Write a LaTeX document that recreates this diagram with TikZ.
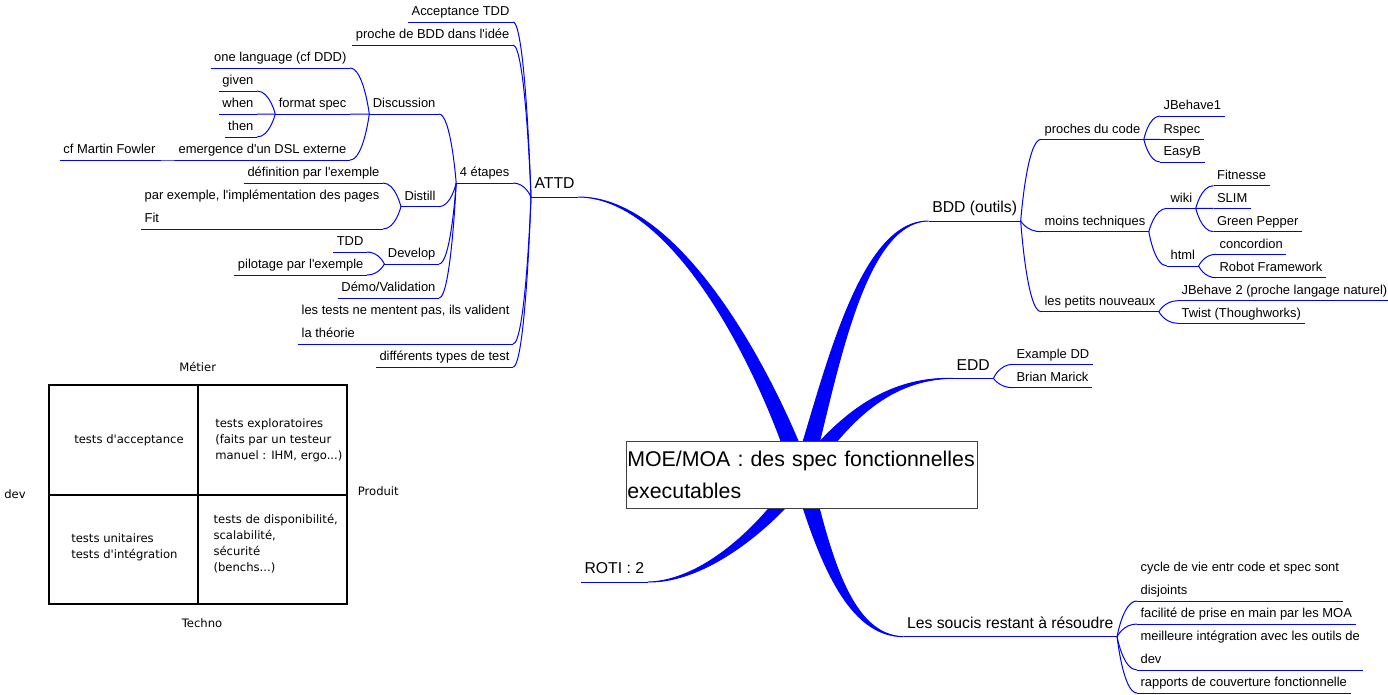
\documentclass[tikz,border=0pt]{standalone}
\usepackage{fontspec}
\setmainfont{Liberation Sans}
\newfontfamily\dejavu{DejaVu Sans}
\usetikzlibrary{calc, backgrounds}

% straight apostrophe
\newcommand{\q}{\textquotesingle}
% thin fork connector, from parent end to child end
\newcommand{\branch}[2]{\draw[link] (#2) .. controls ($(#2)!.7!(#2 -| #1)$) and (#1) .. (#1);}
% tapered connector out of the centre
\newcommand{\spoke}[5]{\filldraw[blue, line width=0.7pt] ($(#1)+#5$) .. controls ($#2+0.7*#5$) and ($#3+0.25*#5$) .. (#4)
  .. controls ($#3-0.25*#5$) and ($#2-0.7*#5$) .. ($(#1)-#5$) -- cycle;}

\begin{document}
\begin{tikzpicture}[
      x=0.75pt, y=-0.75pt,
      core/.style={rectangle, draw=black!75, fill=white, line width=0.8pt,
                   minimum width=263pt, minimum height=50pt, text width=262pt,
                   inner xsep=0.5pt, align=left, font=\fontsize{16}{24.5}\selectfont},
      topic/.style={inner xsep=2.5pt, inner ysep=2pt, text depth=2.5pt,
                    align=left, font=\fontsize{9.7}{17.25}\selectfont},
      main/.style={topic, inner ysep=3.5pt, font=\fontsize{11.8}{14}\selectfont},
      lt/.style={topic, anchor=south east},
      rt/.style={topic, anchor=south west},
      link/.style={draw=blue, line width=0.75pt},
      quad/.style={font=\dejavu\fontsize{8.7}{12}\selectfont, align=left, inner sep=0pt}
    ]
    \useasboundingbox (0,0) rectangle (1388,694);

    % Centre
    \node[core] (root) at (802,475) {\mbox{MOE/MOA : des spec fonctionnelles}\\executables};

    % Left: ATTD
    \node[main, anchor=south west] (attd) at (531,197) {ATTD};
    \node[lt] (acc) at (513,22) {Acceptance TDD};
    \node[lt] (proche) at (513,45) {proche de BDD dans l\q idée};
    \node[lt] (etapes) at (513,183) {4 étapes};
    \node[lt] (mentent) at (513,344) {les tests ne mentent pas, ils valident\\la théorie};
    \node[lt] (types) at (513,367) {différents types de test};

    % 4 etapes
    \node[lt] (discu) at (439,114) {Discussion};
    \node[lt] (distill) at (439,206.7) {Distill};
    \node[lt] (develop) at (439,264) {Develop};
    \node[lt] (demo) at (439,298) {Démo/Validation};

    % Discussion
    \node[lt] (onelang) at (350,68) {one language (cf DDD)};
    \node[lt] (format) at (350,114) {format spec};
    \node[lt] (dsl) at (350,160) {emergence d\q un DSL externe};
    \node[lt] (given) at (257,91) {given};
    \node[lt] (when) at (257,114) {when};
    \node[lt] (then) at (257,137) {then};
    \node[lt] (fowler) at (159,160) {cf Martin Fowler};

    % Distill, Develop
    \node[lt] (defex) at (383,183) {définition par l\q exemple};
    \node[lt] (pages) at (383,229) {par exemple, l\q implémentation des pages\\Fit};
    \node[lt] (tdd) at (367,252) {TDD};
    \node[lt] (pilot) at (367,275) {pilotage par l\q exemple};

    % Left: ROTI
    \node[main, anchor=south west] (roti) at (581,582) {ROTI : 2};

    % Right: BDD
    \node[main, anchor=south west] (bdd) at (928.7,221) {BDD (outils)};
    \node[rt] (proches) at (1041,139.3) {proches du code};
    \node[rt] (moins) at (1041,231.7) {moins techniques};
    \node[rt] (petits) at (1041,311.7) {les petits nouveaux};
    \node[rt] (jb1) at (1160,116) {JBehave1};
    \node[rt] (rspec) at (1160,139.3) {Rspec};
    \node[rt] (easyb) at (1160,162) {EasyB};
    \node[rt] (wiki) at (1167,208.3) {wiki};
    \node[rt] (html) at (1167,266) {html};
    \node[rt] (fitnesse) at (1213.5,185.7) {Fitnesse};
    \node[rt] (slim) at (1213.5,208.3) {SLIM};
    \node[rt] (green) at (1213.5,231.7) {Green Pepper};
    \node[rt] (concord) at (1216,254.3) {concordion};
    \node[rt] (robot) at (1216,277.7) {Robot Framework};
    \node[rt] (jb2) at (1178,300.7) {JBehave 2 (proche langage naturel)};
    \node[rt] (twist) at (1178,323.3) {Twist (Thoughworks)};

    % Right: EDD
    \node[main, anchor=south west] (edd) at (953,378.3) {EDD};
    \node[rt] (exdd) at (1013,364.3) {Example DD};
    \node[rt] (marick) at (1013,387.7) {Brian Marick};

    % Right: soucis
    \node[main, anchor=south west] (soucis) at (903.5,636.7) {Les soucis restant à résoudre};
    \node[rt] (cycle) at (1137,601) {cycle de vie entr code et spec sont\\disjoints};
    \node[rt] (prise) at (1137,624) {facilité de prise en main par les MOA};
    \node[rt] (integ) at (1137,670) {meilleure intégration avec les outils de\\dev};
    \node[rt] (couv) at (1137,693) {rapports de couverture fonctionnelle};

    % Underlines
    \foreach \n in {attd, acc, proche, etapes, mentent, types, discu, distill, develop, demo,
                    onelang, format, dsl, given, when, then, fowler, defex, pages, tdd, pilot,
                    roti, bdd, proches, moins, petits, jb1, rspec, easyb, wiki, html, fitnesse,
                    slim, green, concord, robot, jb2, twist, edd, exdd, marick,
                    soucis, cycle, prise, integ, couv}
      \draw[link] (\n.south west) -- (\n.south east);

    % Spokes from the centre
    \begin{scope}[on background layer]
      \spoke{root.center}{(770,380)}{(680,197)}{attd.south east}{(8.5,-2.5)}
      \spoke{root.center}{(785,505)}{(715,582)}{roti.south east}{(7,4.5)}
      \spoke{root.center}{(830,380)}{(860,221)}{bdd.south west}{(8.5,2.5)}
      \spoke{root.center}{(845,415)}{(890,378)}{edd.south west}{(6.5,4.5)}
      \spoke{root.center}{(825,560)}{(850,636)}{soucis.south west}{(8.5,-2.2)}
    \end{scope}

    % Branches: left
    \foreach \c in {acc, proche, etapes, mentent, types} {\branch{attd.south west}{\c.south east}}
    \foreach \c in {discu, distill, develop, demo} {\branch{etapes.south west}{\c.south east}}
    \foreach \c in {onelang, format, dsl} {\branch{discu.south west}{\c.south east}}
    \foreach \c in {given, when, then} {\branch{format.south west}{\c.south east}}
    \branch{dsl.south west}{fowler.south east}
    \foreach \c in {defex, pages} {\branch{distill.south west}{\c.south east}}
    \foreach \c in {tdd, pilot} {\branch{develop.south west}{\c.south east}}

    % Branches: right
    \foreach \c in {proches, moins, petits} {\branch{bdd.south east}{\c.south west}}
    \foreach \c in {jb1, rspec, easyb} {\branch{proches.south east}{\c.south west}}
    \foreach \c in {wiki, html} {\branch{moins.south east}{\c.south west}}
    \foreach \c in {fitnesse, slim, green} {\branch{wiki.south east}{\c.south west}}
    \foreach \c in {concord, robot} {\branch{html.south east}{\c.south west}}
    \foreach \c in {jb2, twist} {\branch{petits.south east}{\c.south west}}
    \foreach \c in {exdd, marick} {\branch{edd.south east}{\c.south west}}
    \foreach \c in {cycle, prise, integ, couv} {\branch{soucis.south east}{\c.south west}}

    % Quadrant of tests
    \draw[line width=1.5pt] (49,384.7) rectangle (347.3,604);
    \draw[line width=1.5pt] (198,384.7) -- (198,604);
    \draw[line width=1.5pt] (49,495) -- (347.3,495);
    \node[quad] (metier) at (197.7,366.7) {Métier};
    \node[quad] (techno) at (202,622.7) {Techno};
    \node[quad] (dev) at (15,494.3) {dev};
    \node[quad] (produit) at (378.3,490.7) {Produit};
    \node[quad, anchor=west] (qacc) at (74,440.7) {tests d'acceptance};
    \node[quad, anchor=west] (qexp) at (215,440.7) {tests exploratoires\\(faits par un testeur\\manuel : IHM, ergo...)};
    \node[quad, anchor=west] (qunit) at (71,547.5) {tests unitaires\\tests d'intégration};
    \node[quad, anchor=west] (qdispo) at (213.3,543.3) {tests de disponibilité,\\scalabilité,\\sécurité\\(benchs...)};
  \end{tikzpicture}
\end{document}
